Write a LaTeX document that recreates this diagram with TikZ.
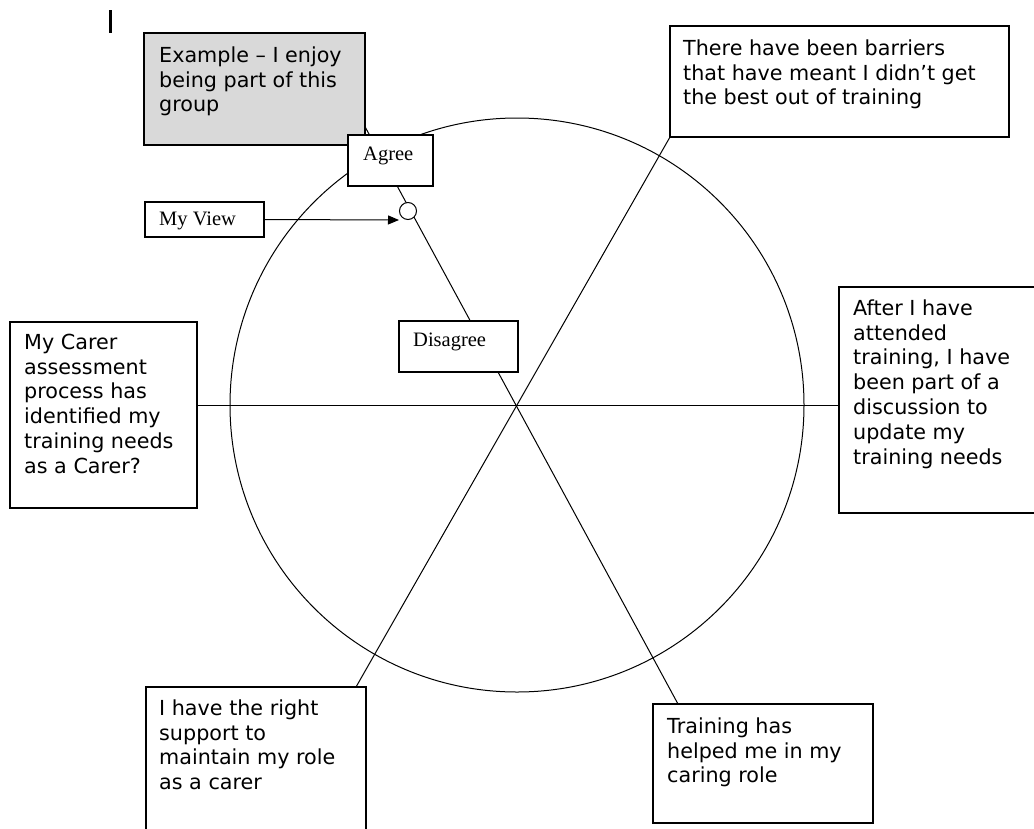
\documentclass[tikz,border=0pt]{standalone}
\usepackage{fontspec}
\setmainfont{DejaVu Sans}
\newfontfamily\tnr{Liberation Serif}
\usetikzlibrary{arrows.meta,calc,backgrounds}
\begin{document}
\begin{tikzpicture}[x=1pt,y=-1pt,
  box/.style={draw,line width=1.3pt,rectangle,inner sep=0pt,outer sep=0pt,anchor=north west,fill=white},
  txt/.style={anchor=north west,inner sep=0pt,align=left,font=\fontsize{20.7}{24.8}\selectfont},
  stxt/.style={anchor=north west,inner sep=0pt,align=left,font=\tnr\fontsize{20.5}{24.8}\selectfont},
  ln/.style={line width=1pt}]
\useasboundingbox (0,0) rectangle (1034,828);
% cursor
\draw[line width=3pt] (110,10) -- (110,33);
% circle
\coordinate (c) at (517,405);
\node[draw,circle,line width=1pt,minimum size=574pt,inner sep=0pt] (wheel) at (c) {};
\coordinate (exC) at (363,123);
\coordinate (brT) at (678,704);
\coordinate (blT) at (356,687);
% boxes
\node[box,fill=gray!30,minimum width=221pt,minimum height=112pt] (ex) at (144,33) {};
\node[box,minimum width=339pt,minimum height=111pt] (tr) at (670,26) {};
\node[box,minimum width=200pt,minimum height=226pt] (rt) at (839,287) {};
\node[box,minimum width=187pt,minimum height=186pt] (lt) at (10,322) {};
\node[box,minimum width=220pt,minimum height=160pt] (bl) at (146,687) {};
\node[box,minimum width=220pt,minimum height=119pt] (br) at (653,704) {};
\node[box,minimum width=85pt,minimum height=51pt] (ag) at (348,135) {};
\node[box,minimum width=119pt,minimum height=35pt] (mv) at (145,202) {};
\node[box,minimum width=119pt,minimum height=51pt] (dis) at (399,321) {};
\node[draw,circle,line width=1pt,fill=white,minimum size=17pt,inner sep=0pt] (vc) at (408,211) {};
% spokes behind the boxes
\begin{pgfonlayer}{background}
\draw[ln] (tr.south west) -- (blT);
\draw[ln] (exC) -- (brT);
\draw[ln] (lt.east |- c) -- (rt.west |- c);
\end{pgfonlayer}
\coordinate (tip) at (399,220);
\draw[ln,-{Triangle[length=11pt,width=9pt]}] (mv.east) -- (tip);
% texts
\node[txt] (t1) at (159,46) {\rule{0pt}{16pt}Example -- I enjoy\\being part of this\\group};
\node[txt] (t2) at (683,39) {\rule{0pt}{16pt}There have been barriers\\that have meant I didn’t get\\the best out of training};
\node[txt] (t3) at (853,299) {\rule{0pt}{16pt}After I have\\attended\\training, I have\\been part of a\\discussion to\\update my\\training needs};
\node[txt] (t4) at (24,333) {\rule{0pt}{16pt}My Carer\\assessment\\process has\\identified my\\training needs\\as a Carer?};
\node[txt] (t5) at (159,699) {\rule{0pt}{16pt}I have the right\\support to\\maintain my role\\as a carer};
\node[txt] (t6) at (667,717) {\rule{0pt}{16pt}Training has\\helped me in my\\caring role};
\node[stxt] (l1) at (363,144) {\rule{0pt}{16pt}Agree};
\node[stxt] (l2) at (159,209) {\rule{0pt}{16pt}My View};
\node[stxt] (l3) at (413,330) {\rule{0pt}{16pt}Disagree};
\end{tikzpicture}
\end{document}
